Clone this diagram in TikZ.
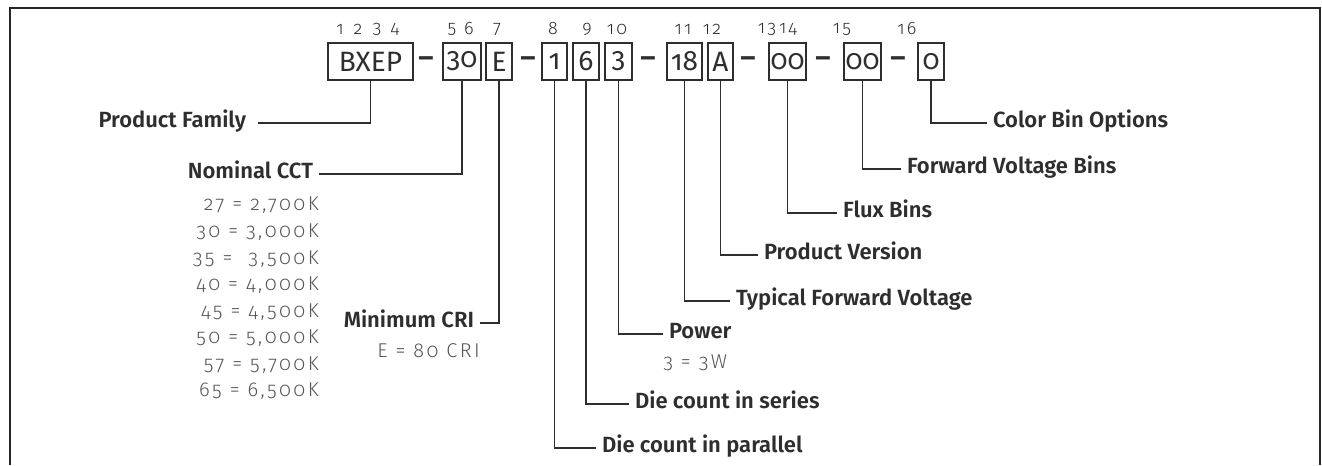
\documentclass[tikz,border=0pt]{standalone}
\usepackage{fontspec}
\IfFontExistsTF{Fira Sans SemiBold}
  {\setmainfont{Fira Sans}[Numbers=OldStyle, BoldFont=Fira Sans SemiBold]}
  {\setmainfont{Fira Sans}[Numbers=OldStyle]}
\IfFontExistsTF{Fira Sans Light}
  {\newfontfamily\lightfont{Fira Sans Light}[Numbers=OldStyle, LetterSpace=12]}
  {\newfontfamily\lightfont{Fira Sans}[Numbers=OldStyle, LetterSpace=12]}
\definecolor{ink}{HTML}{2E2E2E}
\definecolor{soft}{HTML}{555555}
\begin{document}
\begin{tikzpicture}[x=0.75pt, y=-0.75pt, ink,
    part/.style={draw=ink, line width=1pt, inner sep=0pt, minimum height=27.75pt,
      minimum width=#1*0.75pt, font=\fontsize{21}{21}\selectfont},
    sep/.style={inner sep=0pt, font=\fontsize{22}{22}\selectfont\bfseries},
    idx/.style={inner sep=0pt, font=\lightfont\fontsize{13.5}{13.5}\selectfont},
    lab/.style={inner sep=0pt, outer sep=4.5pt, text height=0.7em, text depth=0pt,
      font=\fontsize{16.5}{16.5}\selectfont\bfseries},
    vals/.style={inner sep=0pt, text=soft, align=right, font=\lightfont\fontsize{15}{19.9}\selectfont},
    link/.style={draw=ink, line width=1.1pt}]
  \useasboundingbox (0,0) rectangle (1322,465);
  \draw[line width=1.5pt, draw=black!85] (10,465) -- (10,8) -- (1320,8) -- (1320,465);
  % code boxes
  \node[part=85] (fam)  at (370.5,61.5) {BXEP};
  \node[part=38] (cct)  at (462,61.5)   {30};
  \node[part=26] (cri)  at (499,61.5)   {E};
  \node[part=25] (par)  at (554.5,61.5) {1};
  \node[part=26] (ser)  at (586,61.5)   {6};
  \node[part=27] (pow)  at (618.5,61.5) {3};
  \node[part=35] (vf)   at (684.5,61.5) {18};
  \node[part=25] (ver)  at (720.5,61.5) {A};
  \node[part=37] (flux) at (787.5,61.5) {00};
  \node[part=37] (vbin) at (862.5,61.5) {00};
  \node[part=26] (cbin) at (931,61.5)   {0};
  \foreach \x in {426,528,648,748,823,898}
    \node[sep] (d\x) at (\x,62) {–};
  % digit positions
  \foreach \x/\n in {340/1,358/2,377/3,395/4,452/5,469/6,497/7,553/8,587/9,617/10,
                     683/11,712/12,767/13,788/14,842/15,907/16}
    \node[idx] (i\n) at (\x,29) {\n};
  % labels
  \node[lab, anchor=east, outer sep=9pt] (lfam) at (258,123) {Product Family};
  \node[lab, anchor=east] (lcct) at (319,174) {Nominal CCT};
  \node[lab, anchor=east] (lcri) at (480,323) {Minimum CRI};
  \node[lab, anchor=west] (lpar) at (596,448) {Die count in parallel};
  \node[lab, anchor=west] (lser) at (629,404) {Die count in series};
  \node[lab, anchor=west] (lpow) at (663,334) {Power};
  \node[lab, anchor=west] (lvf) at (730,301) {Typical Forward Voltage};
  \node[lab, anchor=west] (lver) at (758,255) {Product Version};
  \node[lab, anchor=west] (lflux) at (837,213) {Flux Bins};
  \node[lab, anchor=west] (lvbin) at (901,169) {Forward Voltage Bins};
  \node[lab, anchor=west] (lcbin) at (987,123) {Color Bin Options};
  \node[vals, anchor=north east] (vcct) at (319,197)
    {27 = 2,700K\\30 = 3,000K\\35 = \ 3,500K\\40 = 4,000K\\45 = 4,500K\\50 = 5,000K\\57 = 5,700K\\65 = 6,500K};
  \node[vals, anchor=north east] (vcri) at (480,343) {E = 80 CRI};
  \node[vals, anchor=north west] (vpow) at (663,355) {3 = 3W};
  % connectors
  \foreach \p in {fam,cct,cri,par,ser,pow,vf,ver,flux,vbin,cbin}
    \draw[link] (\p.south) |- (l\p);
\end{tikzpicture}
\end{document}
